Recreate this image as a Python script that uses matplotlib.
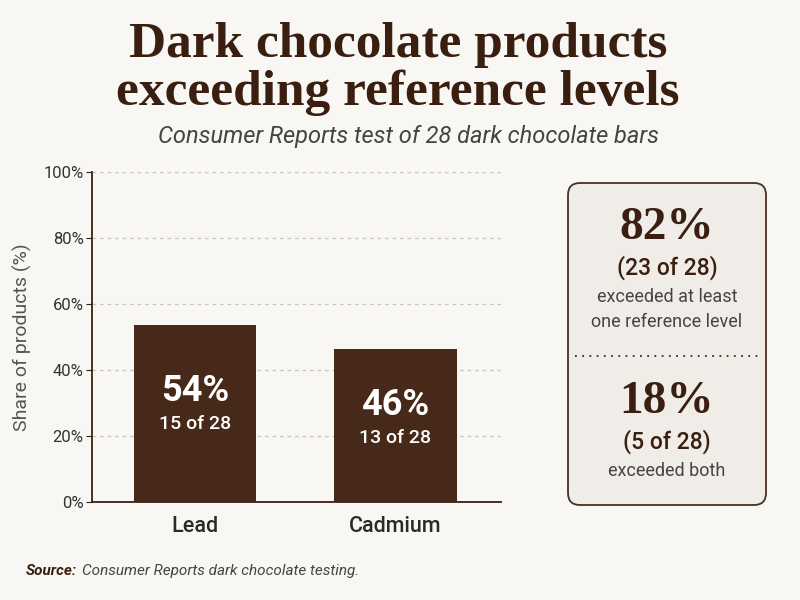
import numpy as np
import matplotlib
matplotlib.use('Agg')
import matplotlib.pyplot as plt
from matplotlib.patches import FancyBboxPatch

# data
metals = ['Lead', 'Cadmium']
n_exceeding = [15, 13]
n_total = 28
shares = [100 * n / n_total for n in n_exceeding]
y_ticks = [0, 20, 40, 60, 80, 100]

summary_counts = [23, 5]
summary_text = [['exceeded at least', 'one reference level'], ['exceeded both']]

bg = '#f8f7f4'
brown = '#47291a'
dark = '#3a1f10'
gray = '#444444'

fig = plt.figure(figsize=(8, 6), dpi=100, facecolor=bg)

# overlay in pixel coordinates for title, panel and source
ov = fig.add_axes([0, 0, 1, 1], facecolor='none')
ov.set_xlim(0, 800)
ov.set_ylim(600, 0)
ov.axis('off')

# title block
for line, yb in zip(['Dark chocolate products', 'exceeding reference levels'], [57, 105]):
    ov.text(398, yb, line, ha='center', va='baseline', fontsize=37, fontweight='bold',
            family='Liberation Serif', color=dark)
ov.text(408, 137, 'Consumer Reports test of 28 dark chocolate bars',
        ha='center', va='center', fontsize=17, style='italic',
        family='Roboto', color=gray)

# bar chart
ax = fig.add_axes([0.115, 0.1633, 0.511, 0.55])
ax.set_facecolor(bg)
x = np.arange(len(metals))
bars = ax.bar(x, shares, width=0.61, color=brown, zorder=3)
ax.set_xlim(-0.514, 1.526)
ax.set_ylim(0, 100)
ax.set_yticks(y_ticks)
ax.set_yticklabels([f'{t}%' for t in y_ticks], family='Roboto', fontsize=12, color='#333333')
ax.set_xticks(x)
ax.set_xticklabels(metals, family='Roboto', fontsize=15.5, fontweight='medium', color='#2a2a2a')
ax.tick_params(axis='x', length=0, pad=10)
ax.tick_params(axis='y', length=4, color=dark, pad=2)
ax.set_ylabel('Share of products (%)', family='Roboto', fontsize=14, color='#555555', labelpad=8)
for s in ['top', 'right']:
    ax.spines[s].set_visible(False)
ax.spines['left'].set_color(dark)
ax.spines['bottom'].set_color(dark)
ax.spines['left'].set_linewidth(1.3)
ax.spines['bottom'].set_linewidth(1.3)
ax.yaxis.grid(True, linestyle=(0, (3, 3)), color='#c9c6c2', linewidth=0.9, zorder=0)

for xi, s, n in zip(x, shares, n_exceeding):
    ax.text(xi, s * 0.63, f'{s:.0f}%', ha='center', va='center', color='white',
            fontsize=26, fontweight='bold', family='Roboto', zorder=4)
    ax.text(xi, s * 0.63 - 10, f'{n} of {n_total}', ha='center', va='center', color='white',
            fontsize=14, fontweight='medium', family='Roboto', zorder=4)

# summary panel
panel = FancyBboxPatch((568, 183), 198, 322, boxstyle='round,pad=0,rounding_size=12',
                       facecolor='#f0ece7', edgecolor='#4a3020', linewidth=1.3)
ov.add_patch(panel)
ov.plot([575, 760], [356, 356], linestyle=(0, (1, 3)), color='#3a2a20', linewidth=1.3)

tops = [228, 402]
for top, c, lines in zip(tops, summary_counts, summary_text):
    pct = round(100 * c / n_total)
    ov.text(667, top, f'{pct}%', ha='center', va='center', fontsize=34, fontweight='bold',
            family='Liberation Serif', color=dark)
    ov.text(667, top + 40, f'({c} of {n_total})', ha='center', va='center', fontsize=16.5,
            fontweight='medium', family='Roboto', color=dark)
    for i, txt in enumerate(lines):
        ov.text(667, top + 69 + 25 * i, txt, ha='center', va='center', fontsize=13,
                family='Roboto', color='#444444')

# source line
ov.text(26, 571, 'Source:', ha='left', va='center', fontsize=11, fontweight='bold',
        style='italic', family='Roboto', color=dark)
ov.text(82, 571, 'Consumer Reports dark chocolate testing.', ha='left', va='center',
        fontsize=11, style='italic', family='Roboto', color='#444444')

fig.savefig('out.png', dpi=100, facecolor=bg)
